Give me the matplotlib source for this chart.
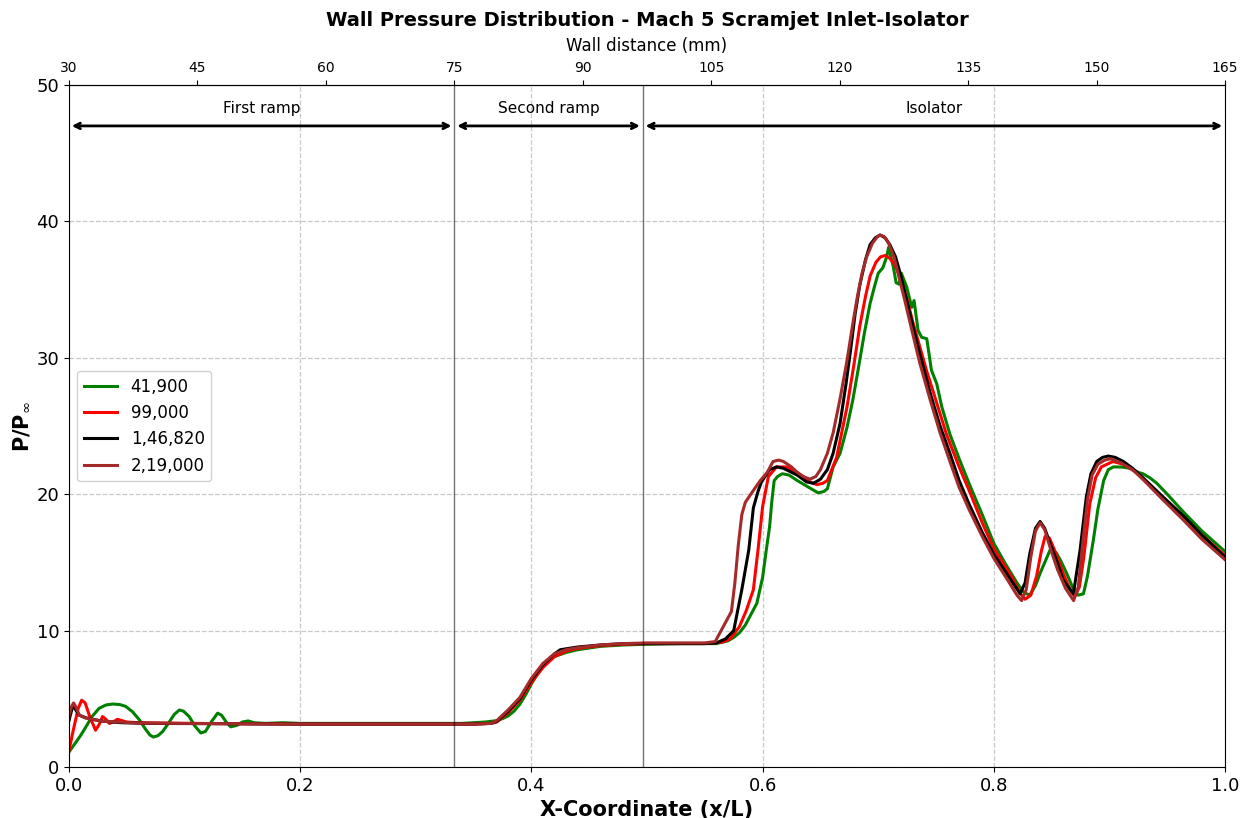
import matplotlib
matplotlib.use("Agg")
import matplotlib.pyplot as plt

# ---- data (x/L, P/Pinf) ----
green_x = [0.000, 0.005, 0.010, 0.0147, 0.020, 0.026, 0.032, 0.038, 0.044, 0.049, 0.055, 0.061, 0.066, 0.070,
           0.073, 0.077, 0.081, 0.086, 0.091, 0.0955, 0.099, 0.104, 0.109, 0.114, 0.118, 0.123, 0.1286, 0.132,
           0.136, 0.140, 0.145, 0.150, 0.155, 0.160, 0.17, 0.185, 0.20, 0.25, 0.30, 0.34, 0.36, 0.37, 0.375,
           0.38, 0.385, 0.39, 0.395, 0.40, 0.405, 0.41, 0.415, 0.42, 0.43, 0.44, 0.46, 0.48, 0.50, 0.53, 0.56,
           0.57, 0.575, 0.58, 0.585, 0.59, 0.595, 0.600, 0.603, 0.606, 0.608, 0.610, 0.613, 0.617, 0.623, 0.630,
           0.640, 0.648, 0.653, 0.656, 0.661, 0.667, 0.673, 0.678, 0.684, 0.688, 0.693, 0.697, 0.700, 0.704,
           0.7073, 0.709, 0.711, 0.713, 0.7155, 0.718, 0.720, 0.7246, 0.729, 0.731, 0.7345, 0.7376, 0.742, 0.746,
           0.7506, 0.755, 0.762, 0.770, 0.779, 0.790, 0.80, 0.81, 0.82, 0.826, 0.831, 0.836, 0.84, 0.8486, 0.854,
           0.858, 0.863, 0.868, 0.873, 0.8775, 0.881, 0.886, 0.890, 0.895, 0.899, 0.9034, 0.910, 0.918, 0.925,
           0.929, 0.935, 0.941, 0.95, 0.964, 0.98, 1.0]
green_y = [1.1, 1.7, 2.3, 2.95, 3.7, 4.3, 4.55, 4.62, 4.58, 4.45, 4.05, 3.45, 2.8, 2.35,
           2.2, 2.3, 2.6, 3.2, 3.85, 4.18, 4.1, 3.7, 3.0, 2.5, 2.6, 3.3, 3.95, 3.8,
           3.3, 2.95, 3.05, 3.3, 3.38, 3.25, 3.2, 3.25, 3.2, 3.2, 3.2, 3.2, 3.3, 3.4, 3.55,
           3.75, 4.1, 4.6, 5.3, 6.1, 6.8, 7.4, 7.85, 8.1, 8.4, 8.6, 8.85, 8.95, 9.0, 9.05, 9.05,
           9.25, 9.5, 9.85, 10.4, 11.2, 12.0, 13.9, 15.8, 17.6, 19.5, 21.0, 21.3, 21.5, 21.4, 21.0,
           20.5, 20.1, 20.2, 20.4, 22.0, 23.0, 24.9, 26.9, 29.8, 31.8, 34.0, 35.3, 36.2, 36.6,
           37.4, 38.1, 37.4, 36.7, 35.5, 35.4, 36.2, 35.2, 33.7, 34.2, 32.0, 31.5, 31.4, 29.1,
           28.1, 26.4, 24.4, 22.6, 20.7, 18.5, 16.4, 14.9, 13.5, 12.8, 12.6, 13.3, 14.2, 15.9, 15.7,
           15.1, 14.2, 13.2, 12.6, 12.7, 14.0, 16.6, 18.9, 21.0, 21.8, 22.0, 22.0, 21.9, 21.6,
           21.5, 21.2, 20.8, 20.0, 18.7, 17.3, 15.8]

red_x = [0.0, 0.004, 0.008, 0.011, 0.014, 0.018, 0.023, 0.026, 0.029, 0.032, 0.035, 0.038, 0.042, 0.046,
         0.05, 0.06, 0.1, 0.2, 0.3, 0.35, 0.365, 0.37, 0.38, 0.39, 0.40, 0.41, 0.42, 0.43, 0.44, 0.46, 0.48,
         0.50, 0.55, 0.565, 0.572, 0.580, 0.586, 0.592, 0.596, 0.600, 0.605, 0.612, 0.621, 0.628, 0.635,
         0.641, 0.647, 0.652, 0.656, 0.664, 0.673, 0.679, 0.684, 0.689, 0.693, 0.698, 0.702, 0.706, 0.710,
         0.7145, 0.7196, 0.7246, 0.730, 0.736, 0.742, 0.748, 0.759, 0.770, 0.780, 0.790, 0.80, 0.815, 0.823,
         0.827, 0.832, 0.837, 0.841, 0.8443, 0.848, 0.853, 0.860, 0.866, 0.870, 0.874, 0.878, 0.883, 0.888,
         0.893, 0.903, 0.912, 0.925, 0.94, 0.96, 0.98, 1.0]
red_y = [1.2, 2.8, 4.3, 4.9, 4.7, 3.7, 2.7, 3.1, 3.7, 3.5, 3.2, 3.3, 3.5, 3.4,
         3.3, 3.25, 3.2, 3.15, 3.15, 3.15, 3.2, 3.3, 4.0, 4.9, 6.2, 7.3, 8.1, 8.5, 8.7, 8.9, 9.0,
         9.05, 9.05, 9.15, 9.4, 10.3, 11.5, 13.0, 15.9, 19.1, 21.3, 22.0, 22.0, 21.7, 21.3,
         20.9, 20.7, 20.8, 21.0, 22.7, 26.4, 29.5, 32.3, 34.5, 36.0, 37.0, 37.4, 37.5, 37.3,
         36.8, 35.8, 34.4, 32.6, 30.8, 29.0, 27.4, 24.4, 22.0, 20.0, 17.9, 16.0, 14.0, 12.7,
         12.3, 12.6, 14.0, 15.8, 16.9, 16.8, 15.8, 14.2, 13.0, 12.5, 13.2, 15.5, 19.3, 21.2,
         22.0, 22.4, 22.2, 21.5, 20.3, 18.7, 17.0, 15.5]

black_x = [0.0, 0.003, 0.005, 0.009, 0.015, 0.02, 0.03, 0.045, 0.07, 0.2, 0.35, 0.365, 0.37, 0.38, 0.39,
           0.40, 0.41, 0.42, 0.425, 0.44, 0.46, 0.48, 0.50, 0.55, 0.56, 0.568, 0.575, 0.582, 0.588, 0.592,
           0.596, 0.599, 0.606, 0.612, 0.618, 0.630, 0.638, 0.644, 0.650, 0.656, 0.661, 0.667, 0.672, 0.676,
           0.680, 0.684, 0.689, 0.693, 0.6975, 0.7016, 0.706, 0.710, 0.715, 0.719, 0.723, 0.7275, 0.736,
           0.745, 0.7535, 0.762, 0.770, 0.779, 0.790, 0.80, 0.811, 0.8227, 0.827, 0.831, 0.836, 0.84, 0.844,
           0.8486, 0.855, 0.86, 0.8688, 0.8746, 0.880, 0.884, 0.889, 0.894, 0.899, 0.905, 0.912, 0.92, 0.929,
           0.945, 0.964, 0.98, 1.0]
black_y = [3.4, 4.4, 4.3, 3.8, 3.6, 3.5, 3.35, 3.25, 3.2, 3.15, 3.15, 3.2, 3.35, 4.1, 5.0,
           6.4, 7.5, 8.3, 8.6, 8.8, 8.95, 9.05, 9.05, 9.05, 9.1, 9.4, 10.0, 13.0, 15.9, 19.0,
           20.2, 20.9, 21.8, 22.0, 21.9, 21.4, 20.9, 20.8, 21.1, 21.8, 23.0, 25.2, 28.0, 30.5,
           33.2, 35.3, 37.2, 38.3, 38.8, 39.0, 38.8, 38.3, 37.4, 36.2, 34.8, 33.2, 30.3,
           27.4, 25.0, 23.0, 21.0, 19.2, 17.2, 15.6, 14.2, 12.7, 13.5, 15.6, 17.5, 18.0, 17.5,
           16.4, 15.0, 13.7, 12.7, 15.9, 19.8, 21.5, 22.4, 22.7, 22.8, 22.7, 22.4, 21.9, 21.2,
           19.9, 18.4, 17.0, 15.4]

brown_x = [0.0, 0.002, 0.004, 0.006, 0.009, 0.014, 0.02, 0.03, 0.043, 0.06, 0.1, 0.2, 0.35, 0.365, 0.37,
           0.38, 0.39, 0.40, 0.41, 0.42, 0.43, 0.44, 0.46, 0.48, 0.50, 0.55, 0.559, 0.566, 0.573, 0.576,
           0.579, 0.582, 0.585, 0.589, 0.593, 0.598, 0.604, 0.609, 0.614, 0.618, 0.625, 0.630, 0.635, 0.641,
           0.646, 0.650, 0.656, 0.661, 0.667, 0.673, 0.678, 0.682, 0.686, 0.69, 0.695, 0.6995, 0.7016, 0.705,
           0.709, 0.714, 0.718, 0.723, 0.728, 0.736, 0.745, 0.7535, 0.762, 0.770, 0.779, 0.790, 0.80, 0.812,
           0.820, 0.824, 0.828, 0.832, 0.836, 0.84, 0.844, 0.849, 0.855, 0.862, 0.869, 0.873, 0.877, 0.881,
           0.885, 0.890, 0.896, 0.901, 0.91, 0.92, 0.93, 0.945, 0.964, 0.98, 1.0]
brown_y = [3.7, 4.4, 4.7, 4.4, 3.8, 3.6, 3.5, 3.35, 3.3, 3.22, 3.2, 3.15, 3.15, 3.2, 3.4,
           4.2, 5.1, 6.5, 7.6, 8.3, 8.6, 8.75, 8.95, 9.05, 9.1, 9.1, 9.2, 10.3, 11.4, 13.5,
           16.3, 18.5, 19.4, 19.9, 20.4, 21.0, 21.6, 22.4, 22.5, 22.4, 22.0, 21.6, 21.3, 21.1,
           21.3, 21.8, 23.0, 24.5, 27.0, 29.8, 32.5, 34.5, 36.2, 37.4, 38.4, 38.9, 39.0, 38.9,
           38.4, 37.3, 35.9, 34.2, 32.4, 29.6, 26.9, 24.5, 22.4, 20.5, 18.8, 16.9, 15.3, 13.7,
           12.6, 12.2, 13.0, 15.4, 17.3, 17.9, 17.4, 16.0, 14.5, 13.1, 12.2, 13.2, 16.5, 19.6,
           21.4, 22.2, 22.5, 22.6, 22.3, 21.8, 21.0, 19.7, 18.1, 16.7, 15.2]

series = [
    ("41,900", green_x, green_y, "green"),
    ("99,000", red_x, red_y, "red"),
    ("1,46,820", black_x, black_y, "black"),
    ("2,19,000", brown_x, brown_y, "brown"),
]

# region boundaries (x/L) and names
region_edges = [0.0, 45 / 135, 67 / 135, 1.0]
region_names = ["First ramp", "Second ramp", "Isolator"]

fig = plt.figure(figsize=(12.47, 8.18), dpi=100)
ax = fig.add_axes([0.0553, 0.0623, 0.9271, 0.8338])

for label, xs, ys, c in series:
    ax.plot(xs, ys, color=c, lw=2.2, label=label)

ax.set_xlim(0, 1)
ax.set_ylim(0, 50)
ax.grid(True, linestyle="--", color="#bbbbbb", alpha=0.8, lw=0.9)
ax.tick_params(labelsize=13)
ax.set_xlabel("X-Coordinate (x/L)", fontsize=15, fontweight="bold")
ax.set_ylabel(r"P/P$_{\infty}$", fontsize=15, fontweight="bold")

# region markers
for xe in region_edges[1:-1]:
    ax.axvline(xe, color="black", alpha=0.55, lw=1)
for i, name in enumerate(region_names):
    x0, x1 = region_edges[i], region_edges[i + 1]
    ax.annotate("", xy=(x1, 47), xytext=(x0, 47),
                arrowprops=dict(arrowstyle="<->", lw=2, color="black",
                                shrinkA=2, shrinkB=2))
    ax.text((x0 + x1) / 2, 48.3, name, ha="center", va="center", fontsize=11)

ax.legend(loc="center left", fontsize=12, framealpha=0.9)

# top axis in mm
top = ax.secondary_xaxis("top", functions=(lambda x: 30 + 135 * x, lambda d: (d - 30) / 135))
top.set_xticks(list(range(30, 166, 15)))
top.tick_params(labelsize=10)
top.set_xlabel("Wall distance (mm)", fontsize=12, labelpad=7.5)

ax.set_title("Wall Pressure Distribution - Mach 5 Scramjet Inlet-Isolator",
             fontsize=14, fontweight="bold", pad=8)

fig.savefig("out.png", dpi=100, facecolor="white")
